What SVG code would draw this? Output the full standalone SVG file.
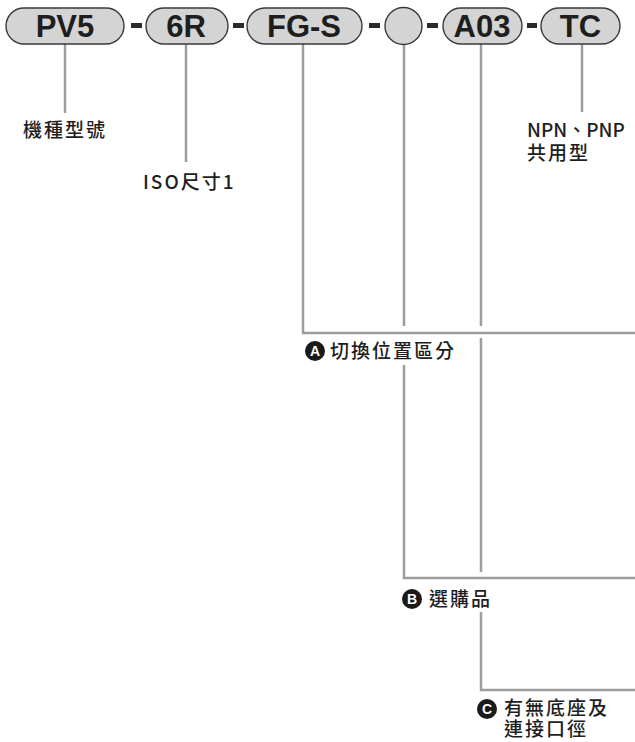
<svg xmlns="http://www.w3.org/2000/svg" width="635" height="742" viewBox="0 0 635 742">
<style>
.pill{fill:#d4d4d4;stroke:#3a3a3a;stroke-width:1.4}
.pt{font-family:"Liberation Sans",Arial,sans-serif;font-weight:bold;font-size:31px;fill:#1e1e1e;text-anchor:middle}
.dash{fill:#2a2a2a}
.ln{fill:none;stroke:#9d9d9d;stroke-width:2.5}
.lbl{font-family:"Noto Sans CJK TC","Liberation Sans",sans-serif;font-size:19px;font-weight:500;fill:#1e1e1e;letter-spacing:2px}
.bc{fill:#1a1a1a}
.bt{font-family:"Liberation Sans",Arial,sans-serif;font-weight:bold;font-size:14px;fill:#fff;text-anchor:middle}
</style>
<rect x="0" y="0" width="635" height="742" fill="#fff"/>
<g id="connectors">
<line class="ln" x1="65" y1="44" x2="65" y2="113"/>
<line class="ln" x1="186" y1="44" x2="186" y2="162"/>
<polyline class="ln" points="303,44 303,333 635,333"/>
<line class="ln" x1="404" y1="45" x2="404" y2="326"/>
<polyline class="ln" points="404,365 404,578 635,578"/>
<line class="ln" x1="481" y1="44" x2="481" y2="326"/>
<line class="ln" x1="481" y1="338" x2="481" y2="572"/>
<polyline class="ln" points="481,612 481,690 635,690"/>
<line class="ln" x1="582" y1="44" x2="582" y2="112"/>
</g>
<g id="dashes">
<rect class="dash" x="131" y="23" width="11" height="5"/>
<rect class="dash" x="233" y="23" width="11" height="5"/>
<rect class="dash" x="369" y="23" width="11" height="5"/>
<rect class="dash" x="427" y="23" width="11" height="5"/>
<rect class="dash" x="527" y="23" width="10" height="5"/>
</g>
<g id="n-pv5"><rect class="pill" x="6" y="8" width="118" height="36" rx="18"/><text class="pt" x="65" y="37">PV5</text></g>
<g id="n-6r"><rect class="pill" x="146" y="8" width="82" height="36" rx="18"/><text class="pt" x="186" y="37">6R</text></g>
<g id="n-fgs"><rect class="pill" x="247" y="8" width="115" height="36" rx="18"/><text class="pt" x="304" y="37">FG-S</text></g>
<g id="n-blank"><circle class="pill" cx="403.5" cy="26" r="18.5"/></g>
<g id="n-a03"><rect class="pill" x="443" y="8" width="79" height="36" rx="18"/><text class="pt" x="482" y="37">A03</text></g>
<g id="n-tc"><rect class="pill" x="541" y="8" width="79" height="36" rx="18"/><text class="pt" x="580.5" y="37">TC</text></g>
<g id="l-model"><text class="lbl" x="23" y="137">機種型號</text></g>
<g id="l-iso"><text class="lbl" x="143" y="189">ISO尺寸1</text></g>
<g id="l-npn"><text class="lbl" x="527" y="137" style="letter-spacing:0">NPN、PNP</text><text class="lbl" x="527" y="160">共用型</text></g>
<g id="l-a"><circle class="bc" cx="315" cy="351" r="10"/><text class="bt" x="315" y="356">A</text><text class="lbl" x="330" y="358">切換位置區分</text></g>
<g id="l-b"><circle class="bc" cx="412" cy="599" r="10"/><text class="bt" x="412" y="604">B</text><text class="lbl" x="429" y="606">選購品</text></g>
<g id="l-c"><circle class="bc" cx="487" cy="709" r="10"/><text class="bt" x="487" y="714">C</text><text class="lbl" x="504" y="715">有無底座及</text><text class="lbl" x="504" y="736">連接口徑</text></g>
</svg>
